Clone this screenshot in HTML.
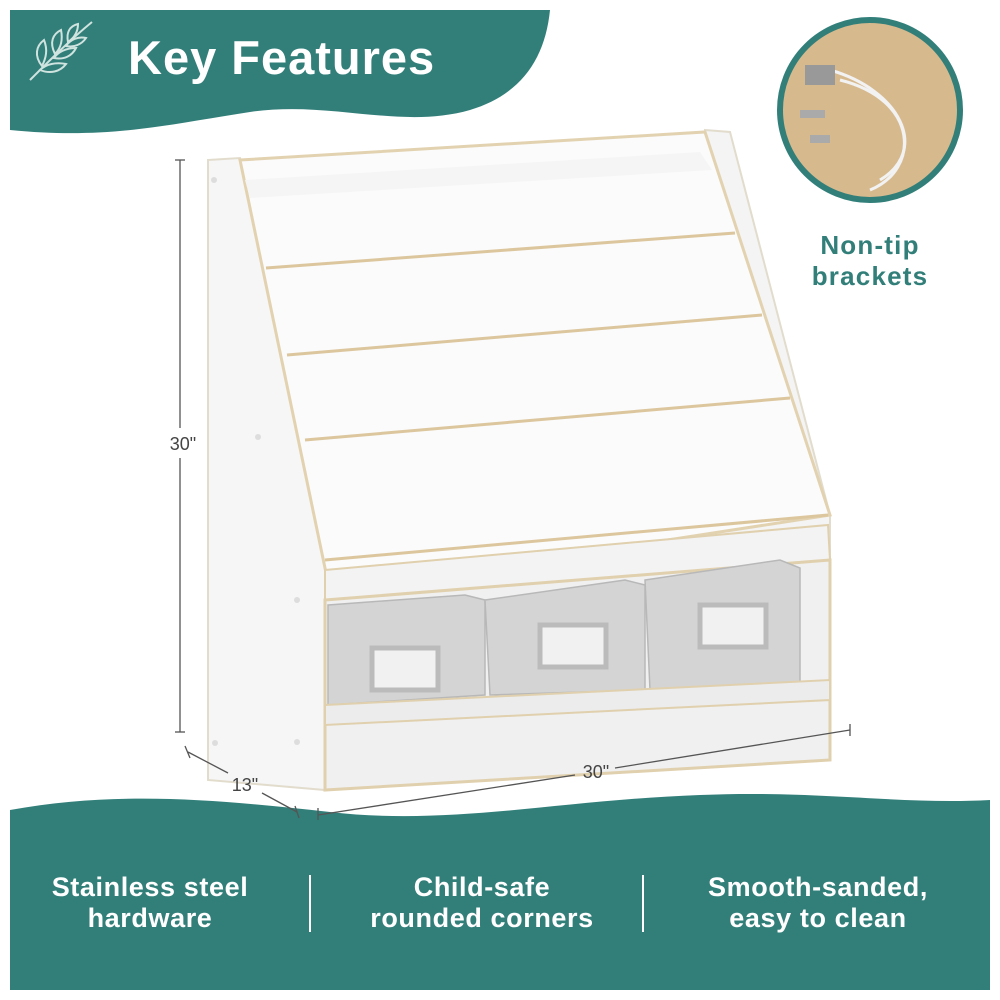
<!DOCTYPE html>
<html><head><meta charset="utf-8"><style>
html,body{margin:0;padding:0;background:#fff;}
svg{display:block}
text{font-family:"Liberation Sans",sans-serif;}
</style></head><body>
<svg width="1000" height="1000" viewBox="0 0 1000 1000">
<rect width="1000" height="1000" fill="#fff"/>
<path d="M10,10 H550 C545,60 520,95 470,110 C400,130 330,100 250,112 C170,124 110,140 10,130 Z" fill="#327f7a"/>
<text x="128" y="74" font-size="47" font-weight="bold" fill="#fff" letter-spacing="1">Key Features</text>
<g stroke="#cfe3df" stroke-width="2" fill="none">
<path d="M30,80 C50,60 70,40 92,22"/>
<path d="M42,66 c-8,-10 -6,-20 2,-26 c4,10 2,18 -2,26z"/>
<path d="M55,54 c-6,-12 -2,-20 6,-24 c2,10 0,18 -6,24z"/>
<path d="M68,42 c-2,-10 2,-16 10,-18 c0,8 -4,14 -10,18z"/>
<path d="M40,70 c10,4 20,2 26,-6 c-10,-2 -20,0 -26,6z"/>
<path d="M54,58 c10,2 18,-2 22,-10 c-10,0 -18,4 -22,10z"/>
<path d="M66,46 c8,2 16,-2 20,-8 c-8,-2 -16,2 -20,8z"/>
</g>
<path d="M10,810 C120,790 220,800 330,812 C450,826 560,800 700,795 C820,790 900,805 990,800 V990 H10 Z" fill="#327f7a"/>
<g fill="#fff" font-size="27" font-weight="bold" text-anchor="middle" letter-spacing="0.6">
<text x="150" y="896">Stainless steel</text><text x="150" y="927">hardware</text>
<text x="482" y="896">Child-safe</text><text x="482" y="927">rounded corners</text>
<text x="818" y="896">Smooth-sanded,</text><text x="818" y="927">easy to clean</text>
</g>
<line x1="310" y1="875" x2="310" y2="932" stroke="#fff" stroke-width="2"/>
<line x1="643" y1="875" x2="643" y2="932" stroke="#fff" stroke-width="2"/>
<circle cx="870" cy="110" r="90" fill="#d7b98e" stroke="#327f7a" stroke-width="6"/>
<g stroke="#f2f2f2" stroke-width="3" fill="none">
<path d="M830,70 C900,90 930,150 880,180"/><path d="M840,80 C920,100 920,170 870,190"/>
</g>
<rect x="805" y="65" width="30" height="20" fill="#999"/>
<rect x="800" y="110" width="25" height="8" fill="#aaa"/>
<rect x="810" y="135" width="20" height="8" fill="#aaa"/>
<text x="870" y="254" font-size="26" font-weight="bold" fill="#327f7a" text-anchor="middle" letter-spacing="1.2">Non-tip</text>
<text x="870" y="285" font-size="26" font-weight="bold" fill="#327f7a" text-anchor="middle" letter-spacing="1.2">brackets</text>
<polygon points="208,160 240,158 330,592 325,790 208,780" fill="#f6f6f6" stroke="#e2dccd" stroke-width="2"/>
<polygon points="705,130 730,132 830,515 830,760 705,760" fill="#f4f4f4" stroke="#e2dccd" stroke-width="2"/>
<polygon points="240,160 705,132 830,515 330,592" fill="#fbfbfb" stroke="#e2d2b0" stroke-width="3"/>
<polygon points="245,180 700,152 712,170 250,198" fill="#f5f5f5"/>
<g stroke="#dcc69e" stroke-width="3">
<line x1="266" y1="268" x2="735" y2="233"/>
<line x1="287" y1="355" x2="762" y2="315"/>
<line x1="305" y1="440" x2="790" y2="398"/>
<line x1="325" y1="560" x2="828" y2="515"/>
</g>
<polygon points="325,570 828,525 830,560 325,600" fill="#f3f3f3" stroke="#e0d0ad" stroke-width="2"/>
<polygon points="325,600 830,560 830,760 325,790" fill="#f0f0f0" stroke="#e0d0ad" stroke-width="3"/>
<g fill="#d4d4d4" stroke="#b8b8b8" stroke-width="1.5">
<polygon points="328,605 465,595 485,600 485,695 328,705"/>
<polygon points="485,600 625,580 645,585 645,690 490,695"/>
<polygon points="645,580 780,560 800,568 800,685 650,690"/>
</g>
<g fill="#f1f1f1" stroke="#bbb" stroke-width="5">
<rect x="372" y="648" width="66" height="42"/>
<rect x="540" y="625" width="66" height="42"/>
<rect x="700" y="605" width="66" height="42"/>
</g>
<polygon points="325,705 830,680 830,700 325,725" fill="#ececec" stroke="#e0d0ad" stroke-width="2"/>
<g fill="#ddd"><circle cx="214" cy="180" r="3"/><circle cx="258" cy="437" r="3"/><circle cx="297" cy="600" r="3"/><circle cx="297" cy="742" r="3"/><circle cx="215" cy="743" r="3"/></g>
<g stroke="#555" stroke-width="1.3">
<line x1="180" y1="160" x2="180" y2="428"/><line x1="180" y1="458" x2="180" y2="732"/>
<line x1="175" y1="160" x2="185" y2="160"/><line x1="175" y1="732" x2="185" y2="732"/>
<line x1="318" y1="815" x2="575" y2="775"/><line x1="615" y1="768" x2="850" y2="730"/>
<line x1="318" y1="808" x2="318" y2="820"/><line x1="850" y1="724" x2="850" y2="736"/>
<line x1="188" y1="752" x2="228" y2="773"/><line x1="262" y1="793" x2="297" y2="812"/>
<line x1="185" y1="746" x2="190" y2="758"/><line x1="295" y1="806" x2="299" y2="818"/>
</g>
<g font-size="18" fill="#444" text-anchor="middle">
<text x="183" y="450">30"</text>
<text x="596" y="778">30"</text>
<text x="245" y="791">13"</text>
</g>
</svg>
</body></html>
